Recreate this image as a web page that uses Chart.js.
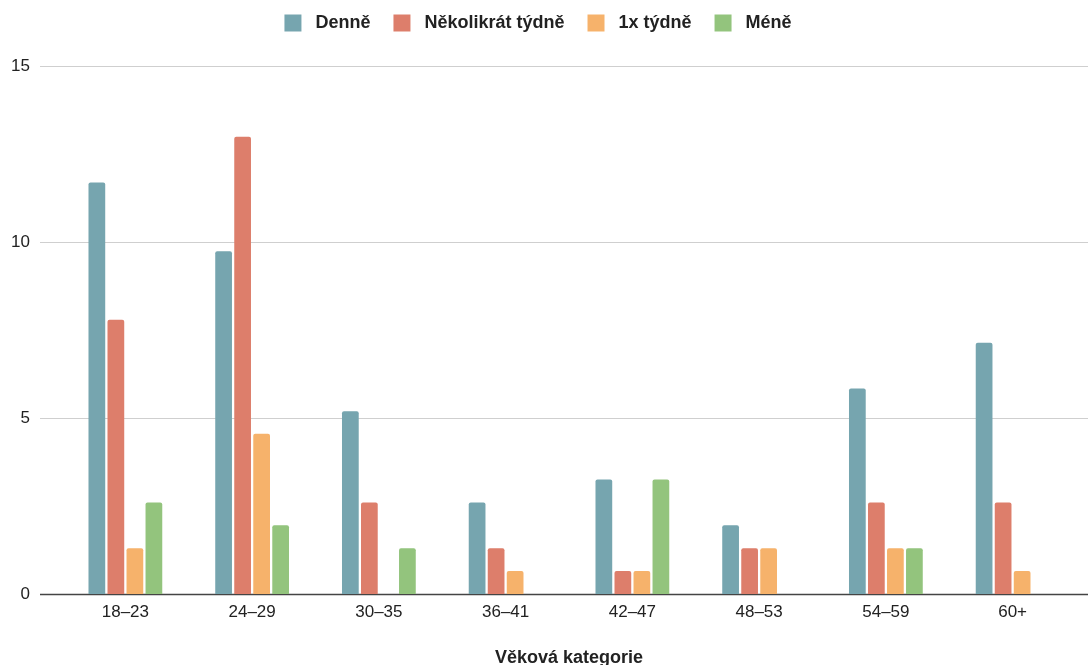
<!DOCTYPE html>
<html>
<head>
<meta charset="utf-8">
<script src="https://cdn.jsdelivr.net/npm/chart.js@4"></script>
<style>
  html, body { margin: 0; padding: 0; background: #fff; }
  #wrap { width: 1088px; height: 665px; }
</style>
</head>
<body>
<div id="wrap"><canvas id="barChart"></canvas></div>
<script>
const ageGroups = ["18–23", "24–29", "30–35", "36–41", "42–47", "48–53", "54–59", "60+"];
const denne = [11.69, 9.74, 5.19, 2.60, 3.25, 1.95, 5.84, 7.14];
const nekolikrat = [7.79, 12.99, 2.60, 1.30, 0.65, 1.30, 2.60, 2.60];
const jednouTydne = [1.30, 4.55, 0, 0.65, 0.65, 1.30, 1.30, 0.65];
const mene = [2.60, 1.95, 1.30, 0, 3.25, 0, 1.30, 0];
const yTicks = [0, 5, 10, 15];

Chart.defaults.font.family = "'Liberation Sans', Arial, sans-serif";
Chart.defaults.color = '#222';

// gridlines reach past the plot area, like the original
const wideGrid = {
    id: 'wideGrid',
    beforeDatasetsDraw(chart) {
        const ctx = chart.ctx;
        const y = chart.scales.y;
        ctx.save();
        yTicks.forEach(v => {
            const py = Math.round(y.getPixelForValue(v)) + 0.5;
            ctx.beginPath();
            ctx.strokeStyle = v === 0 ? '#444' : '#cfcfcf';
            ctx.lineWidth = v === 0 ? 1.5 : 1;
            ctx.moveTo(40, py);
            ctx.lineTo(chart.width, py);
            ctx.stroke();
        });
        ctx.restore();
    }
};

const legendHeight = {
    id: 'legendHeight',
    beforeInit(chart) {
        const fit = chart.legend.fit;
        chart.legend.fit = function () {
            fit.bind(chart.legend)();
            this.height = 75;
        };
    }
};

function series(label, data, color) {
    return {
        label: label,
        data: data,
        backgroundColor: color,
        borderRadius: { topLeft: 2, topRight: 2 },
        borderSkipped: 'bottom',
        barPercentage: 0.88,
        categoryPercentage: 0.6
    };
}

new Chart(document.getElementById('barChart'), {
    type: 'bar',
    data: {
        labels: ageGroups,
        datasets: [
            series('Denně', denne, '#76a5af'),
            series('Několikrát týdně', nekolikrat, '#dd7e6b'),
            series('1x týdně', jednouTydne, '#f6b26b'),
            series('Méně', mene, '#93c47d')
        ]
    },
    options: {
        responsive: true,
        maintainAspectRatio: false,
        animation: false,
        layout: { padding: { top: -9, right: 12, left: 0, bottom: 0 } },
        plugins: {
            tooltip: { enabled: false },
            legend: {
                position: 'top',
                labels: {
                    boxWidth: 17,
                    boxHeight: 17,
                    padding: 23,
                    color: '#222',
                    font: { size: 18, weight: 'bold' },
                    generateLabels(chart) {
                        // a bit more room between swatch and text
                        return Chart.defaults.plugins.legend.labels.generateLabels(chart)
                            .map(item => Object.assign(item, { text: ' ' + item.text }));
                    }
                }
            }
        },
        scales: {
            x: {
                grid: { display: false, drawTicks: false },
                border: { display: false },
                ticks: { padding: 8, font: { size: 17 }, color: '#222', maxRotation: 0 },
                title: {
                    display: true,
                    text: 'Věková kategorie',
                    color: '#222',
                    font: { size: 18, weight: 'bold' },
                    padding: { top: 17, bottom: -4 }
                }
            },
            y: {
                min: 0,
                max: 15,
                afterFit(scale) { scale.width = 62; },
                afterBuildTicks(scale) { scale.ticks = yTicks.map(v => ({ value: v })); },
                grid: { display: false, drawTicks: false },
                border: { display: false },
                ticks: { padding: 32, font: { size: 17 }, color: '#222' }
            }
        }
    },
    plugins: [wideGrid, legendHeight]
});
</script>
</body>
</html>
